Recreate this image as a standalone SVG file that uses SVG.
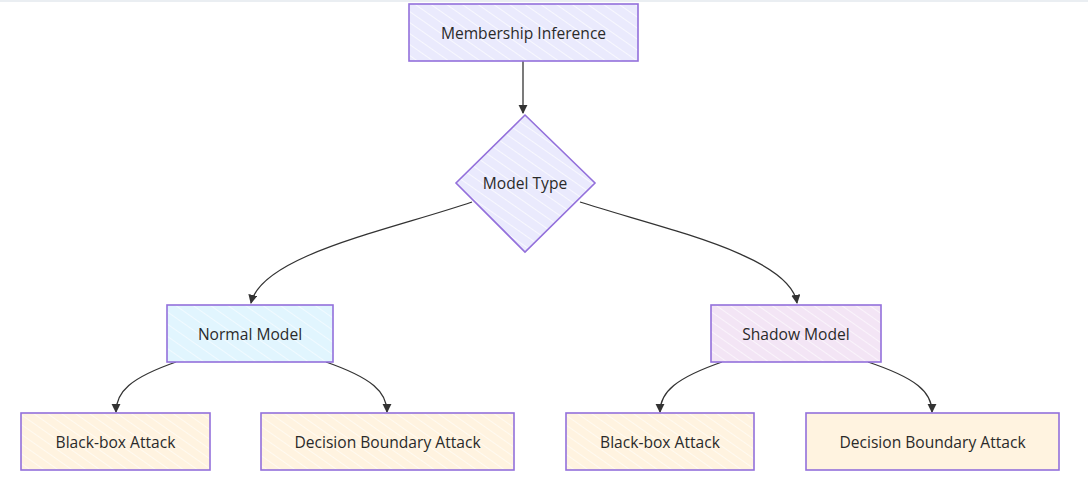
<svg xmlns="http://www.w3.org/2000/svg" width="1088" height="480" viewBox="0 0 1088 480">
<defs>
<pattern id="hLav" patternUnits="userSpaceOnUse" width="9" height="9" patternTransform="rotate(-55)">
<rect width="9" height="9" fill="#EAEAFD"/>
<line x1="0" y1="0" x2="0" y2="9" stroke="#FFFFFF" stroke-width="1.6" opacity="0.85"/>
</pattern>
<pattern id="hBlue" patternUnits="userSpaceOnUse" width="10" height="10" patternTransform="rotate(-55)">
<rect width="10" height="10" fill="#E1F5FE"/>
<line x1="0" y1="0" x2="0" y2="10" stroke="#FFFFFF" stroke-width="1.4" opacity="0.75"/>
</pattern>
<pattern id="hPurp" patternUnits="userSpaceOnUse" width="8" height="8" patternTransform="rotate(-55)">
<rect width="8" height="8" fill="#F3E5F5"/>
<line x1="0" y1="0" x2="0" y2="8" stroke="#FFFFFF" stroke-width="1.4" opacity="0.85"/>
</pattern>
<pattern id="hOr" patternUnits="userSpaceOnUse" width="8" height="8" patternTransform="rotate(-55)">
<rect width="8" height="8" fill="#FFF3E0"/>
<line x1="0" y1="0" x2="0" y2="8" stroke="#FFFFFF" stroke-width="1.3" opacity="0.85"/>
</pattern>
<marker id="arr" viewBox="0 0 10 10" refX="9" refY="5" markerWidth="7" markerHeight="7" orient="auto">
<path d="M0,0 L10,5 L0,10 Z" fill="#333333"/>
</marker>
</defs>
<style>
.box{stroke:#9370DB;stroke-width:1.6}
.lbl{font-family:"Open Sans","Noto Sans",sans-serif;font-size:15.6px;fill:#2A2A2A;text-anchor:middle;dominant-baseline:central}
.edge{fill:none;stroke:#333333;stroke-width:1.3;marker-end:url(#arr)}
</style>
<rect width="1088" height="480" fill="#FFFFFF"/>
<line x1="0" y1="1" x2="1088" y2="1" stroke="#E3E8EE" stroke-width="1.5"/>
<g id="connectors">
<path class="edge" d="M523,61 L523,113"/>
<path class="edge" d="M472,202 C390,230 262,255 251,303"/>
<path class="edge" d="M580,202 C660,228 790,255 797,303"/>
<path class="edge" d="M176,362 C130,378 116,392 116,412"/>
<path class="edge" d="M326,362 C372,378 387,392 387,412"/>
<path class="edge" d="M722,362 C676,378 660,392 660,412"/>
<path class="edge" d="M868,362 C916,378 932,392 932,412"/>
</g>
<g id="membership">
<rect class="box" x="409" y="4" width="229" height="57" fill="url(#hLav)"/>
<text class="lbl" x="523.5" y="33">Membership Inference</text>
</g>
<g id="modeltype">
<polygon class="box" points="525,115 595,183 525,252 456,183" fill="url(#hLav)"/>
<text class="lbl" x="525" y="183">Model Type</text>
</g>
<g id="normal">
<rect class="box" x="167" y="305" width="166" height="57" fill="url(#hBlue)"/>
<text class="lbl" x="250" y="334">Normal Model</text>
</g>
<g id="shadow">
<rect class="box" x="711" y="305" width="170" height="57" fill="url(#hPurp)"/>
<text class="lbl" x="796" y="334">Shadow Model</text>
</g>
<g id="bb1">
<rect class="box" x="21" y="413" width="189" height="57" fill="url(#hOr)"/>
<text class="lbl" x="115.5" y="442">Black-box Attack</text>
</g>
<g id="db1">
<rect class="box" x="261" y="413" width="253" height="57" fill="url(#hOr)"/>
<text class="lbl" x="387.5" y="442">Decision Boundary Attack</text>
</g>
<g id="bb2">
<rect class="box" x="566" y="413" width="188" height="57" fill="url(#hOr)"/>
<text class="lbl" x="660" y="442">Black-box Attack</text>
</g>
<g id="db2">
<rect class="box" x="806" y="413" width="253" height="57" fill="#FFF3E0"/>
<text class="lbl" x="932.5" y="442">Decision Boundary Attack</text>
</g>
</svg>
